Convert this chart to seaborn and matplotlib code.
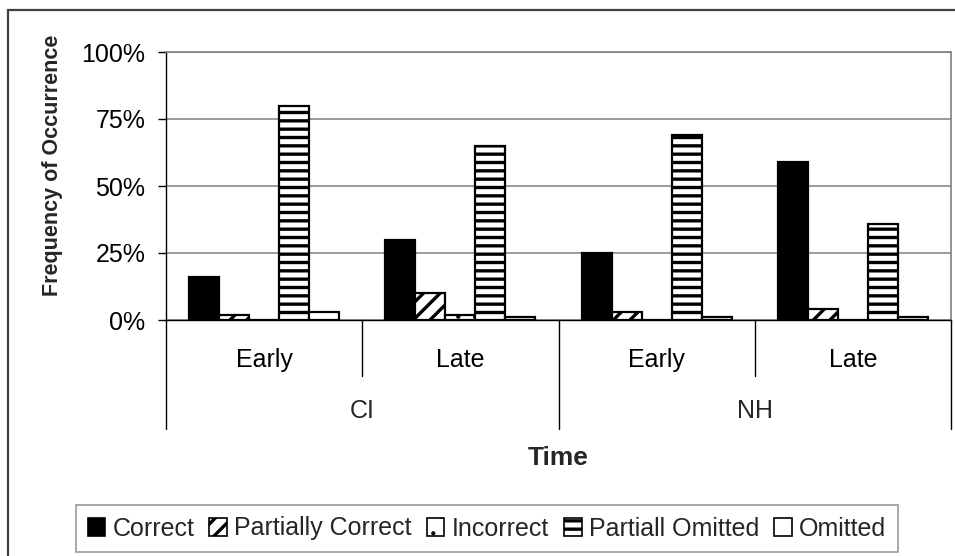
import matplotlib
matplotlib.use("Agg")
import matplotlib.pyplot as plt
import matplotlib.transforms as mtransforms
from matplotlib.patches import Patch, Rectangle
from matplotlib.ticker import PercentFormatter
import seaborn as sns
import pandas as pd

# ---- data ----
groups = ["CI", "CI", "NH", "NH"]
times = ["Early", "Late", "Early", "Late"]
series_names = ["Correct", "Partially Correct", "Incorrect", "Partiall Omitted", "Omitted"]
correct = [16, 30, 25, 59]
partially_correct = [2, 10, 3, 4]
incorrect = [0, 2, 0, 0]
partial_omitted = [80, 65, 69, 36]
omitted = [3, 1, 1, 1]
y_ticks = [0, 25, 50, 75, 100]

series_values = [correct, partially_correct, incorrect, partial_omitted, omitted]
cats = [f"{g}-{t}" for g, t in zip(groups, times)]
rows = []
for name, vals in zip(series_names, series_values):
    for c, v in zip(cats, vals):
        rows.append({"cat": c, "type": name, "value": v})
df = pd.DataFrame(rows)

sns.set_theme(style="white")
plt.rcParams["font.family"] = ["Liberation Sans", "DejaVu Sans"]
plt.rcParams["hatch.linewidth"] = 2.4

faces = ["black", "white", "white", "white", "white"]
hatches = [None, "//", ".", "--", None]


def thin_dots(p, h):
    if h == ".":
        try:
            p.set_hatch_linewidth(0.6)
        except AttributeError:
            pass


fig = plt.figure(figsize=(9.55, 5.56), dpi=100)
W, H = 955, 556
ax = fig.add_axes([166 / W, 1 - 320 / H, (951 - 166) / W, (320 - 52) / H])

sns.barplot(data=df, x="cat", y="value", hue="type", order=cats,
            hue_order=series_names, palette=["white"] * 5, width=0.765,
            errorbar=None, edgecolor="black", linewidth=1.6, legend=False,
            ax=ax, zorder=3)

for cont, fc, h in zip(ax.containers, faces, hatches):
    for p in cont.patches:
        p.set_facecolor(fc)
        p.set_edgecolor("black")
        if h:
            p.set_hatch(h)
            thin_dots(p, h)

ax.set_xlim(-0.5, len(cats) - 0.5)
ax.set_ylim(0, 100)
ax.set_yticks(y_ticks)
ax.yaxis.set_major_formatter(PercentFormatter(100, decimals=0))
ax.grid(axis="y", color="#808080", linewidth=1.1, zorder=0)
ax.set_axisbelow(True)

for s in ["top", "right"]:
    ax.spines[s].set_color("#808080")
    ax.spines[s].set_linewidth(1.2)
ax.spines["left"].set_color("black")
ax.spines["bottom"].set_color("black")
ax.spines["left"].set_linewidth(1.0)
ax.spines["bottom"].set_linewidth(1.0)

ax.tick_params(axis="y", which="major", left=True, length=6, width=1,
               color="black", pad=9, labelsize=18, labelcolor="black")
ax.set_xticks(range(len(cats)))
ax.set_xticklabels(times)
ax.tick_params(axis="x", length=0, pad=20, labelsize=18, labelcolor="black")

# multi-level category axis dividers
trans = mtransforms.blended_transform_factory(ax.transData, ax.transAxes)
short_y = -(376 - 320) / (320 - 52)
long_y = -(429 - 320) / (320 - 52)
uniq_groups = list(dict.fromkeys(groups))
boundaries = [-0.5]
for g in uniq_groups:
    idx = [i for i, gg in enumerate(groups) if gg == g]
    boundaries.append(idx[-1] + 0.5)
for i in range(len(cats) + 1):
    xpos = i - 0.5
    yb = long_y if xpos in boundaries else short_y
    ax.plot([xpos, xpos], [0, yb], transform=trans, color="black",
            linewidth=1.0, clip_on=False)
for g in uniq_groups:
    idx = [i for i, gg in enumerate(groups) if gg == g]
    ax.text((idx[0] + idx[-1]) / 2, -(411 - 320) / (320 - 52), g,
            transform=trans, ha="center", va="center", fontsize=18)

ax.set_xlabel("Time", fontsize=19, fontweight="bold")
ax.xaxis.set_label_coords(0.5, -(458 - 320) / (320 - 52))
ax.xaxis.label.set_va("center")
ax.set_ylabel("Frequency of Occurrence", fontsize=15.5, fontweight="bold")
ax.yaxis.set_label_coords((52 - 166) / (951 - 166), (320 - 165) / (320 - 52))
ax.yaxis.label.set_va("center")

# legend
handles = []
for fc, h in zip(faces, hatches):
    hp = Patch(facecolor=fc, edgecolor="black", hatch=h, linewidth=1.2)
    thin_dots(hp, h)
    handles.append(hp)
leg = fig.legend(handles, series_names, ncol=5, loc="center",
                 bbox_to_anchor=(487 / W, 1 - 528.5 / H), fontsize=18,
                 frameon=True, fancybox=False, edgecolor="#808080",
                 handlelength=0.7, handleheight=0.7, handletextpad=0.3,
                 columnspacing=0.6, borderpad=0.45, borderaxespad=0)
leg.get_frame().set_linewidth(1.2)
for lp, h in zip(leg.get_patches(), hatches):
    thin_dots(lp, h)

# outer chart border
fig.patches.append(Rectangle((8 / W, -0.1), 2, 1 - 10 / H + 0.1,
                             transform=fig.transFigure, fill=False,
                             edgecolor="#404040", linewidth=1.6))

fig.savefig("out.png", dpi=100, facecolor="white")
